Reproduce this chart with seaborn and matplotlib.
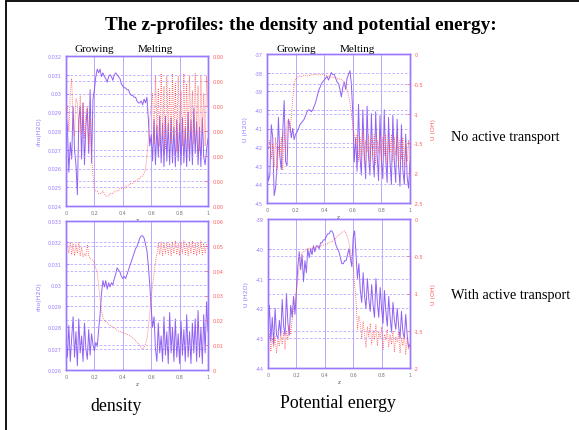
import numpy as np
import matplotlib
matplotlib.use("Agg")
import matplotlib.pyplot as plt
import seaborn as sns
from matplotlib.lines import Line2D

# depth coordinate of each profile sample
z = np.linspace(0, 1, 101)

# density profiles, no active transport
rho_no = [0.0290, 0.0282, 0.0258, 0.0274, 0.0265, 0.0293, 0.0270, 0.0262, 0.0246, 0.0286,
          0.0293, 0.0265, 0.0295, 0.0262, 0.0283, 0.0292, 0.0268, 0.0302, 0.0263, 0.0297,
          0.0302, 0.0309, 0.0313, 0.0311, 0.0313, 0.0309, 0.0311, 0.0309, 0.0308, 0.0306,
          0.0309, 0.0310, 0.0309, 0.0307, 0.0310, 0.0311, 0.0310, 0.0309, 0.0308, 0.0305,
          0.0304, 0.0303, 0.0303, 0.0302, 0.0302, 0.0300, 0.0299, 0.0299, 0.0298, 0.0298,
          0.0296, 0.0295, 0.0295, 0.0296, 0.0294, 0.0297, 0.0295, 0.0298, 0.0286, 0.0272,
          0.0278, 0.0264, 0.0286, 0.0262, 0.0283, 0.0266, 0.0288, 0.0263, 0.0284, 0.0261,
          0.0288, 0.0264, 0.0284, 0.0262, 0.0287, 0.0263, 0.0282, 0.0261, 0.0286, 0.0264,
          0.0284, 0.0262, 0.0287, 0.0263, 0.0282, 0.0261, 0.0290, 0.0264, 0.0286, 0.0262,
          0.0292, 0.0268, 0.0285, 0.0262, 0.0282, 0.0261, 0.0287, 0.0266, 0.0262, 0.0270,
          0.0276]
rho2_no = [0.0036, 0.0040, 0.0030, 0.0045, 0.0051, 0.0034, 0.0028, 0.0043, 0.0041, 0.0030,
           0.0044, 0.0029, 0.0041, 0.0027, 0.0037, 0.0040, 0.0024, 0.0035, 0.0020, 0.0012,
           0.0007, 0.0006, 0.0006, 0.0005, 0.0005, 0.0005, 0.0006, 0.0005, 0.0004, 0.0004,
           0.0004, 0.0005, 0.0005, 0.0005, 0.0006, 0.0006, 0.0006, 0.0006, 0.0007, 0.0007,
           0.0007, 0.0007, 0.0008, 0.0008, 0.0008, 0.0009, 0.0009, 0.0009, 0.0010, 0.0010,
           0.0010, 0.0011, 0.0011, 0.0012, 0.0012, 0.0013, 0.0015, 0.0020, 0.0027, 0.0035,
           0.0040, 0.0045, 0.0025, 0.0052, 0.0030, 0.0047, 0.0024, 0.0053, 0.0028, 0.0048,
           0.0023, 0.0052, 0.0030, 0.0047, 0.0025, 0.0053, 0.0028, 0.0049, 0.0022, 0.0052,
           0.0030, 0.0046, 0.0024, 0.0053, 0.0027, 0.0049, 0.0023, 0.0052, 0.0030, 0.0046,
           0.0025, 0.0053, 0.0029, 0.0048, 0.0022, 0.0052, 0.0030, 0.0045, 0.0024, 0.0052,
           0.0040]

# potential energy profiles, no active transport
u_no = [-43.0, -43.8, -43.5, -40.8, -41.5, -44.6, -44.2, -43.0, -40.4, -42.5,
        -43.2, -41.2, -39.5, -42.8, -43.0, -40.5, -40.8, -41.5, -41.0, -41.6,
        -41.3, -41.2, -41.0, -40.8, -40.7, -40.6, -40.5, -40.3, -40.1, -40.0,
        -40.0, -40.1, -40.0, -39.8, -39.6, -39.3, -39.0, -38.8, -38.6, -38.5,
        -38.4, -38.3, -38.2, -38.4, -38.2, -38.0, -38.1, -38.1, -38.3, -38.5,
        -38.6, -38.9, -39.3, -38.8, -38.5, -38.9, -38.3, -38.1, -37.9, -38.6,
        -40.2, -42.8, -41.5, -43.3, -39.7, -42.5, -43.5, -40.0, -42.3, -43.7,
        -39.8, -42.5, -43.5, -40.2, -42.6, -43.6, -40.1, -42.4, -43.8, -40.3,
        -42.7, -43.7, -40.0, -42.6, -43.9, -40.4, -42.8, -44.0, -40.3, -42.7,
        -43.9, -40.5, -43.0, -44.1, -40.8, -43.2, -44.0, -41.3, -43.6, -44.2,
        -42.8]
u2_no = [-1.55, -1.60, -1.45, -1.75, -1.50, -1.90, -1.40, -1.95, -1.55, -1.70,
         -1.40, -1.95, -1.30, -1.65, -1.15, -1.10, -1.30, -1.05, -0.75, -0.50,
         -0.42, -0.40, -0.38, -0.37, -0.38, -0.37, -0.36, -0.36, -0.37, -0.36,
         -0.36, -0.35, -0.35, -0.34, -0.35, -0.34, -0.35, -0.35, -0.34, -0.35,
         -0.36, -0.36, -0.37, -0.37, -0.38, -0.38, -0.39, -0.40, -0.40, -0.41,
         -0.42, -0.42, -0.43, -0.45, -0.48, -0.52, -0.60, -0.70, -0.82, -1.00,
         -1.20, -1.35, -1.50, -1.35, -1.80, -1.40, -1.70, -1.30, -1.85, -1.45,
         -1.65, -1.35, -1.80, -1.40, -1.70, -1.35, -1.85, -1.45, -1.65, -1.35,
         -1.80, -1.40, -1.70, -1.35, -1.85, -1.45, -1.65, -1.35, -1.80, -1.40,
         -1.70, -1.35, -1.85, -1.45, -1.75, -1.40, -1.90, -1.50, -1.80, -1.45,
         -1.95]

# density profiles, with active transport
rho_act = [0.0276, 0.0266, 0.0281, 0.0264, 0.0275, 0.0285, 0.0266, 0.0278, 0.0262, 0.0284,
           0.0268, 0.0276, 0.0264, 0.0282, 0.0270, 0.0265, 0.0279, 0.0267, 0.0277, 0.0272,
           0.0269, 0.0273, 0.0271, 0.0279, 0.0286, 0.0296, 0.0302, 0.0299, 0.0302, 0.0298,
           0.0301, 0.0299, 0.0301, 0.0300, 0.0303, 0.0305, 0.0308, 0.0307, 0.0306, 0.0304,
           0.0303, 0.0304, 0.0303, 0.0305, 0.0307, 0.0309, 0.0311, 0.0313, 0.0315, 0.0317,
           0.0318, 0.0320, 0.0322, 0.0323, 0.0323, 0.0322, 0.0319, 0.0316, 0.0309, 0.0300,
           0.0289, 0.0280, 0.0285, 0.0270, 0.0264, 0.0282, 0.0268, 0.0276, 0.0264, 0.0285,
           0.0267, 0.0278, 0.0263, 0.0287, 0.0268, 0.0280, 0.0264, 0.0284, 0.0266, 0.0277,
           0.0263, 0.0283, 0.0267, 0.0279, 0.0264, 0.0286, 0.0266, 0.0278, 0.0263, 0.0282,
           0.0268, 0.0284, 0.0264, 0.0288, 0.0266, 0.0280, 0.0263, 0.0286, 0.0268, 0.0292,
           0.0278]
rho2_act = [0.0525, 0.0505, 0.0470, 0.0515, 0.0465, 0.0510, 0.0460, 0.0505, 0.0470, 0.0515,
            0.0460, 0.0495, 0.0455, 0.0470, 0.0460, 0.0505, 0.0460, 0.0450, 0.0445, 0.0440,
            0.0430, 0.0410, 0.0390, 0.0340, 0.0285, 0.0240, 0.0210, 0.0200, 0.0195, 0.0190,
            0.0185, 0.0180, 0.0178, 0.0172, 0.0168, 0.0165, 0.0160, 0.0156, 0.0155, 0.0152,
            0.0150, 0.0148, 0.0147, 0.0143, 0.0140, 0.0138, 0.0133, 0.0128, 0.0124, 0.0118,
            0.0112, 0.0105, 0.0098, 0.0090, 0.0085, 0.0092, 0.0105, 0.0125, 0.0170, 0.0230,
            0.0290, 0.0345, 0.0390, 0.0440, 0.0465, 0.0510, 0.0465, 0.0515, 0.0460, 0.0510,
            0.0470, 0.0515, 0.0465, 0.0510, 0.0460, 0.0515, 0.0470, 0.0520, 0.0465, 0.0510,
            0.0460, 0.0515, 0.0470, 0.0520, 0.0465, 0.0510, 0.0460, 0.0515, 0.0470, 0.0520,
            0.0465, 0.0510, 0.0460, 0.0515, 0.0470, 0.0520, 0.0465, 0.0510, 0.0470, 0.0505,
            0.0490]

# potential energy profiles, with active transport
u_act = [-42.8, -41.9, -43.1, -42.3, -43.2, -42.0, -42.9, -43.0, -42.4, -42.9,
         -41.7, -42.6, -42.9, -41.5, -42.5, -42.9, -41.9, -42.3, -41.6, -42.2,
         -41.4, -40.6, -40.1, -40.7, -40.2, -41.1, -40.4, -40.8, -40.0, -40.3,
         -40.0, -40.2, -39.9, -40.1, -39.9, -39.9, -40.0, -39.8, -39.8, -39.7,
         -39.7, -39.6, -39.5, -39.5, -39.4, -39.4, -39.5, -39.7, -39.9, -40.0,
         -40.1, -40.3, -40.5, -40.5, -40.4, -40.4, -40.2, -40.0, -40.3, -40.6,
         -39.6, -39.4, -40.2, -41.0, -40.5, -41.4, -41.8, -40.8, -41.6, -42.0,
         -41.0, -41.7, -42.1, -41.2, -41.9, -42.3, -41.0, -41.8, -42.3, -41.3,
         -42.0, -42.5, -41.4, -42.1, -42.6, -41.6, -42.3, -42.8, -41.8, -42.4,
         -42.7, -42.0, -42.6, -43.0, -42.1, -42.8, -43.0, -42.2, -42.9, -43.3,
         -43.2]
u2_act = [-1.66, -1.55, -1.78, -1.60, -1.72, -1.58, -1.80, -1.62, -1.70, -1.55,
          -1.68, -1.52, -1.75, -1.50, -1.62, -1.42, -1.55, -1.35, -1.22, -1.10,
          -0.98, -0.80, -0.63, -0.52, -0.45, -0.44, -0.42, -0.41, -0.40, -0.40,
          -0.39, -0.40, -0.38, -0.39, -0.37, -0.38, -0.36, -0.37, -0.35, -0.35,
          -0.34, -0.34, -0.33, -0.32, -0.31, -0.31, -0.29, -0.27, -0.25, -0.23,
          -0.22, -0.20, -0.18, -0.17, -0.16, -0.19, -0.24, -0.32, -0.42, -0.55,
          -0.65, -0.88, -1.10, -1.48, -1.30, -1.40, -1.60, -1.38, -1.55, -1.72,
          -1.45, -1.58, -1.40, -1.68, -1.50, -1.62, -1.42, -1.70, -1.52, -1.60,
          -1.45, -1.75, -1.55, -1.62, -1.48, -1.72, -1.55, -1.68, -1.50, -1.78,
          -1.58, -1.65, -1.52, -1.80, -1.60, -1.70, -1.55, -1.82, -1.62, -1.75,
          -1.70]

x_ticks = [0, 0.2, 0.4, 0.6, 0.8, 1]
x_labels = ["0", "0.2", "0.4", "0.6", "0.8", "1"]

rho_no_ticks = [0.024, 0.025, 0.026, 0.027, 0.028, 0.029, 0.030, 0.031, 0.032]
rho_no_labels = ["0.024", "0.025", "0.026", "0.027", "0.028", "0.029", "0.03", "0.031", "0.032"]
rho2_no_ticks = [0.000, 0.001, 0.002, 0.003, 0.004, 0.005, 0.006]
rho2_no_labels = ["0.00"] * 7

u_no_ticks = [-45, -44, -43, -42, -41, -40, -39, -38, -37]
u_no_labels = ["-45", "-44", "-43", "-42", "-41", "-40", "-39", "-38", "-37"]
u2_no_ticks = [-2.5, -2, -1.5, -1, -0.5, 0]
u2_no_labels = ["-2.5", "-2", "-1.5", "-1", "-0.5", "0"]

rho_act_ticks = [0.026, 0.027, 0.028, 0.029, 0.030, 0.031, 0.032, 0.033]
rho_act_labels = ["0.026", "0.027", "0.028", "0.029", "0.03", "0.031", "0.032", "0.033"]
rho2_act_ticks = [0, 0.01, 0.02, 0.03, 0.04, 0.05, 0.06]
rho2_act_labels = ["0", "0.01", "0.02", "0.03", "0.04", "0.05", "0.06"]

u_act_ticks = [-44, -43, -42, -41, -40, -39]
u_act_labels = ["-44", "-43", "-42", "-41", "-40", "-39"]
u2_act_ticks = [-2, -1.5, -1, -0.5, 0]
u2_act_labels = ["-2", "-1.5", "-1", "-0.5", "0"]

sns.set_theme(style="white")
plt.rcParams["font.family"] = ["DejaVu Sans"]
plt.rcParams["axes.unicode_minus"] = False

PURPLE = "#8550f2"
FRAME = "#9a78ff"
GRID = "#bba8ff"
RED = "#ff5a5a"
SERIF = "Liberation Serif"

W, H = 579, 431
fig = plt.figure(figsize=(W / 100, H / 100), dpi=100)
fig.patch.set_facecolor("white")


def rect(x0, y0, x1, y1):
    return [x0 / W, 1 - y1 / H, (x1 - x0) / W, (y1 - y0) / H]


def panel(box, left_vals, right_vals, lt, ll, rt, rl, left_name, right_name):
    ax = fig.add_axes(rect(*box))
    sns.lineplot(x=z, y=left_vals, ax=ax, color=PURPLE, linewidth=0.7, alpha=0.9)
    ax.set_xlim(0, 1)
    ax.set_ylim(lt[0], lt[-1])
    ax.set_xticks(x_ticks)
    ax.set_xticklabels(x_labels)
    ax.set_yticks(lt)
    ax.set_yticklabels(ll)
    ax.grid(False)
    for xv in x_ticks[1:-1]:
        ax.axvline(xv, color=GRID, linewidth=0.7, zorder=0.5)
    for yv in lt[1:-1]:
        ax.axhline(yv, color=GRID, linewidth=0.6, linestyle=(0, (3, 2)), zorder=0.5)
    ax.set_xlabel("z", fontsize=4, color="#555555", labelpad=1)
    ax.set_ylabel(left_name, fontsize=4.5, color=FRAME, labelpad=5)
    ax.tick_params(axis="both", which="both", direction="in", length=2.5, width=0.5,
                   color=FRAME, labelsize=3.5, pad=3)
    ax.tick_params(axis="y", labelcolor=FRAME)
    ax.tick_params(axis="x", labelcolor="#777777")

    ax2 = ax.twinx()
    sns.lineplot(x=z, y=right_vals, ax=ax2, color=RED, linewidth=0.6,
                 linestyle=(0, (1, 1.4)))
    ax2.set_ylim(rt[0], rt[-1])
    ax2.set_yticks(rt)
    ax2.set_yticklabels(rl)
    ax2.grid(False)
    for yv in rt[1:-1]:
        ax2.axhline(yv, color=GRID, linewidth=0.6, linestyle=(0, (3, 2)), zorder=0.5)
    ax2.tick_params(axis="y", direction="in", length=2.5, width=0.5, color=RED,
                    labelsize=3.5, labelcolor=RED, pad=3)
    if right_name:
        ax2.set_ylabel(right_name, fontsize=4.5, color=RED, labelpad=5)
    ax2.set_xlabel("")
    for a in (ax, ax2):
        for s in a.spines.values():
            s.set_color(FRAME)
            s.set_linewidth(1.0)
    return ax, ax2


panel((66, 57, 208, 207), rho_no, rho2_no, rho_no_ticks, rho_no_labels,
      rho2_no_ticks, rho2_no_labels, "rho(H2O)", None)
panel((267, 55, 410, 204), u_no, u2_no, u_no_ticks, u_no_labels,
      u2_no_ticks, u2_no_labels, "U (H2O)", "U (OH)")
panel((66, 222, 208, 371), rho_act, rho2_act, rho_act_ticks, rho_act_labels,
      rho2_act_ticks, rho2_act_labels, "rho(H2O)", None)
panel((268, 220, 410, 369), u_act, u2_act, u_act_ticks, u_act_labels,
      u2_act_ticks, u2_act_labels, "U (H2O)", "U (OH)")


def label(x, y, s, size, ha="center", weight="normal"):
    fig.text(x / W, 1 - y / H, s, ha=ha, va="center", fontsize=size,
             family=SERIF, weight=weight, color="black")


label(301, 25, "The z-profiles: the density and potential energy:", 13.8, weight="bold")
label(94, 49, "Growing", 8)
label(155, 49, "Melting", 8)
label(296, 49, "Growing", 8)
label(357, 49, "Melting", 8)
label(451, 137, "No active transport", 10.3, ha="left")
label(451, 295, "With active transport", 10.3, ha="left")
label(116, 407, "density", 12.8)
label(338, 404, "Potential energy", 12.8)

# slide frame edges
fig.add_artist(Line2D([6 / W, 6 / W], [0, 1 - 1.5 / H], color="black", linewidth=1.3,
                      transform=fig.transFigure))
fig.add_artist(Line2D([6 / W, 1], [1 - 1.5 / H, 1 - 1.5 / H], color="black", linewidth=1.3,
                      transform=fig.transFigure))

fig.savefig("out.png", dpi=100, facecolor="white")
